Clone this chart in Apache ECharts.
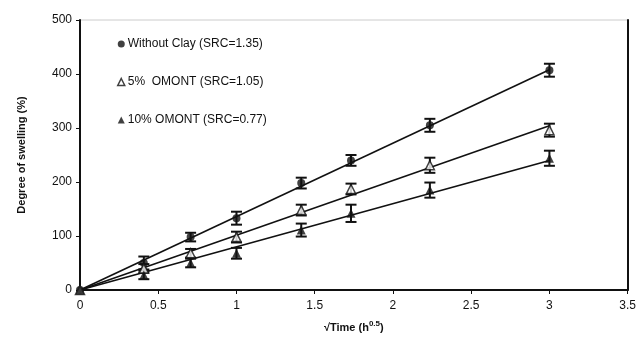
<!DOCTYPE html>
<html>
<head>
<meta charset="utf-8">
<script src="https://cdn.jsdelivr.net/npm/echarts@6/dist/echarts.min.js"></script>
<style>
  html, body { margin: 0; padding: 0; background: #fff; }
  #chart { width: 639px; height: 340px; }
</style>
</head>
<body>
<div id="chart"></div>
<script>
// sqrt(time) values, h^0.5
const sqrtTime = [0, 0.408, 0.707, 1, 1.414, 1.732, 2.236, 3];

const noClay = [0, 50, 98, 133, 198, 240, 305, 407];
const noClayErr = [0, 12, 8, 12, 10, 10, 12, 12];
const omont5 = [0, 40, 68, 98, 148, 187, 231, 296];
const omont5Err = [0, 8, 8, 10, 10, 10, 14, 12];
const omont10 = [0, 28, 50, 68, 111, 142, 185, 244];
const omont10Err = [0, 8, 8, 10, 12, 16, 14, 14];

// linear fits through origin, value at x = 3
const fitX = [0, 3];
const fitNoClay = [0, 408];
const fitOmont5 = [0, 304];
const fitOmont10 = [0, 240];

const names = ["Without Clay (SRC=1.35)", "5%  OMONT (SRC=1.05)", "10% OMONT (SRC=0.77)"];

const chart = echarts.init(document.getElementById("chart"));

const pairs = (xs, ys) => xs.map((x, i) => [x, ys[i]]);
const errData = (ys, es) => sqrtTime.map((x, i) => [x, ys[i] - es[i], ys[i] + es[i]]);

function errorBars(data) {
  return {
    type: "custom",
    silent: true,
    z: 3,
    data: data,
    renderItem: (params, api) => {
      if (api.value(2) === api.value(1)) return;
      const lo = api.coord([api.value(0), api.value(1)]);
      const hi = api.coord([api.value(0), api.value(2)]);
      const w = 5.5;
      const style = { stroke: "#111", lineWidth: 2 };
      return {
        type: "group",
        children: [
          { type: "line", shape: { x1: lo[0], y1: lo[1], x2: hi[0], y2: hi[1] }, style },
          { type: "line", shape: { x1: lo[0] - w, y1: lo[1], x2: lo[0] + w, y2: lo[1] }, style },
          { type: "line", shape: { x1: hi[0] - w, y1: hi[1], x2: hi[0] + w, y2: hi[1] }, style }
        ]
      };
    }
  };
}

function fitLine(ys) {
  return {
    type: "line",
    data: pairs(fitX, ys),
    showSymbol: false,
    silent: true,
    z: 2,
    lineStyle: { color: "#111", width: 1.6 }
  };
}

const option = {
  animation: false,
  backgroundColor: "#fff",
  textStyle: { fontFamily: "Liberation Sans, Arial, sans-serif" },
  grid: {
    left: 80, right: 10, top: 20, bottom: 50,
    show: true, borderColor: "#ccc", borderWidth: 1
  },
  legend: {
    orient: "vertical",
    left: 112,
    top: 33,
    itemGap: 26,
    itemWidth: 7,
    itemHeight: 7,
    textStyle: { fontSize: 12, color: "#111", padding: [0, 0, 0, -2] },
    data: [
      { name: names[0], icon: "circle", itemStyle: { color: "#111" } },
      { name: names[1], icon: "triangle", itemStyle: { color: "#fff", borderColor: "#111", borderWidth: 1.5 } },
      { name: names[2], icon: "triangle", itemStyle: { color: "#111" } }
    ]
  },
  xAxis: {
    type: "value",
    min: 0, max: 3.5, interval: 0.5,
    name: "{a|√Time (h}{s|0.5}{a|)}",
    nameLocation: "middle",
    nameGap: 30,
    nameTextStyle: {
      rich: {
        a: { fontSize: 11, fontWeight: "bold", color: "#111" },
        s: { fontSize: 8, fontWeight: "bold", color: "#111", verticalAlign: "bottom", padding: [0, 0, 8, 0] }
      }
    },
    axisLine: { lineStyle: { color: "#111", width: 2 } },
    axisTick: { show: true, inside: false, length: 4, lineStyle: { color: "#111" } },
    axisLabel: { fontSize: 12, color: "#111", margin: 10 },
    splitLine: { show: false }
  },
  yAxis: [
    {
      type: "value",
      min: 0, max: 500, interval: 100,
      name: "Degree of swelling (%)",
      nameLocation: "middle",
      nameGap: 53,
      nameTextStyle: { fontSize: 11, fontWeight: "bold", color: "#111" },
      axisLine: { show: true, lineStyle: { color: "#111", width: 2 } },
      axisTick: { show: true, inside: false, length: 4, lineStyle: { color: "#111" } },
      axisLabel: { fontSize: 12, color: "#111", margin: 8 },
      splitLine: { show: false }
    },
    {
      type: "value",
      position: "right",
      min: 0, max: 500,
      axisLine: { show: true, lineStyle: { color: "#111", width: 2 } },
      axisTick: { show: false },
      axisLabel: { show: false },
      splitLine: { show: false }
    }
  ],
  series: [
    fitLine(fitNoClay),
    fitLine(fitOmont5),
    fitLine(fitOmont10),
    errorBars(errData(noClay, noClayErr)),
    errorBars(errData(omont5, omont5Err)),
    errorBars(errData(omont10, omont10Err)),
    {
      name: names[0],
      type: "scatter",
      data: pairs(sqrtTime, noClay),
      symbol: "circle",
      symbolSize: 8,
      z: 5,
      itemStyle: { color: "#111" }
    },
    {
      name: names[1],
      type: "scatter",
      data: pairs(sqrtTime, omont5),
      symbol: "triangle",
      symbolSize: 9,
      z: 5,
      itemStyle: { color: "#fff", borderColor: "#111", borderWidth: 1.5 }
    },
    {
      name: names[2],
      type: "scatter",
      data: pairs(sqrtTime, omont10),
      symbol: "triangle",
      symbolSize: 9,
      z: 5,
      itemStyle: { color: "#111" }
    }
  ]
};

chart.setOption(option);
</script>
</body>
</html>
